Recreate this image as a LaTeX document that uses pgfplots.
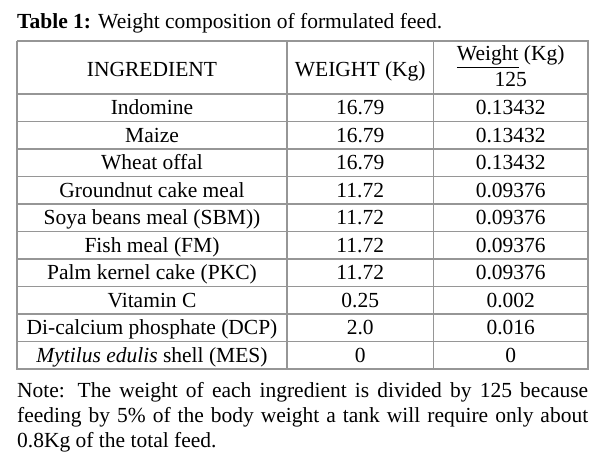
\documentclass[border=0pt]{standalone}
\usepackage{fontspec}
\setmainfont{Liberation Serif}
\usepackage{pgfplots}
\usepackage{pgfplotstable}
\pgfplotsset{compat=1.18}
% y = text baseline (pixels from the top)
\pgfplotstableread[col sep=semicolon]{
y;name;weight;per
114.5;Indomine;16.79;0.13432
142;Maize;16.79;0.13432
169.5;Wheat offal;16.79;0.13432
197;Groundnut cake meal;11.72;0.09376
224.5;Soya beans meal (SBM));11.72;0.09376
252;Fish meal (FM);11.72;0.09376
279.5;Palm kernel cake (PKC);11.72;0.09376
307;Vitamin C;0.25;0.002
334.5;Di-calcium phosphate (DCP);2.0;0.016
362;\textit{Mytilus edulis} shell (MES);0;0
}\feedtable
\definecolor{rule}{RGB}{150,150,150}
\newcommand\bodyfont{\fontsize{21.5}{24.8}\selectfont}
\begin{document}
\begin{tikzpicture}[font=\bodyfont]
\begin{axis}[
  width=605pt, height=458pt, scale only axis,
  xmin=0, xmax=605, ymin=0, ymax=458, y dir=reverse,
  axis lines=none, clip=false,
]
% table rules
\addplot[rule, line width=1.4pt] coordinates {(17,41) (588,41) (588,369) (17,369) (17,41)};
\addplot[rule, line width=1.4pt] coordinates {(287,41) (287,369)};
\addplot[rule, line width=1.4pt] coordinates {(433.5,41) (433.5,369)};
\addplot[rule, line width=1.4pt] coordinates {(17,94) (588,94)};
\foreach \k in {1,...,9} {
  \edef\tmp{\noexpand\addplot[rule, line width=1.4pt] coordinates {(17,{94+27.5*\k}) (588,{94+27.5*\k})};}
  \tmp
}
% cell text
\addplot[draw=none, mark=none, nodes near coords, point meta=explicit symbolic,
  nodes near coords style={anchor=base, inner sep=0pt, font=\bodyfont}]
  table[x expr=152, y=y, meta=name] {\feedtable};
\addplot[draw=none, mark=none, nodes near coords, point meta=explicit symbolic,
  nodes near coords style={anchor=base, inner sep=0pt, font=\bodyfont}]
  table[x expr=360.25, y=y, meta=weight] {\feedtable};
\addplot[draw=none, mark=none, nodes near coords, point meta=explicit symbolic,
  nodes near coords style={anchor=base, inner sep=0pt, font=\bodyfont}]
  table[x expr=510.75, y=y, meta=per] {\feedtable};
% headers
\node[inner sep=0pt, anchor=base, font=\bodyfont] at (axis cs:152,76) {INGREDIENT};
\node[inner sep=0pt, anchor=base, font=\bodyfont] at (axis cs:360.25,76) {WEIGHT (Kg)};
\node[inner sep=0pt, anchor=base, font=\bodyfont] at (axis cs:510.75,60.7) {\underline{Weight} (Kg)};
\node[inner sep=0pt, anchor=base, font=\bodyfont] at (axis cs:510.75,86.7) {125};
% title
\node[inner sep=0pt, anchor=base west, font=\bodyfont] at (axis cs:17,28) {\textbf{Table 1:} Weight composition of formulated feed.};
% note
\node[inner sep=0pt, anchor=north west, text width=571pt, align=justify, font=\bodyfont] at (axis cs:17,382.2)
  {\hyphenpenalty=10000 Note: The weight of each ingredient is divided by 125 because\linebreak feeding by 5\% of the body weight a tank will require only about\linebreak 0.8Kg of the total feed.};
\end{axis}
\pgfresetboundingbox
\path[use as bounding box] (current axis.south west) rectangle (current axis.north east);
\end{tikzpicture}
\end{document}
